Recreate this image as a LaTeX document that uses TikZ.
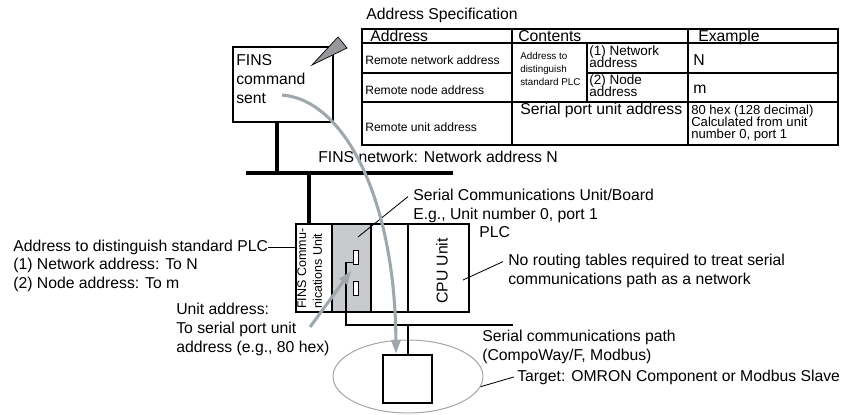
\documentclass[tikz,border=0pt]{standalone}
\usepackage{fontspec}
\setmainfont{Liberation Sans}
\usetikzlibrary{shapes.geometric,arrows.meta,positioning,calc}
\lineskiplimit=-100pt

\definecolor{arrowgray}{RGB}{158,168,173}
\definecolor{unitgray}{RGB}{200,202,206}
\definecolor{tailgray}{RGB}{150,152,156}
\definecolor{ringgray}{RGB}{160,165,170}

\begin{document}
\begin{tikzpicture}[x=0.025cm, y=-0.025cm,
  txt/.style={font=\fontsize{11.2}{13.3}\selectfont, inner sep=0pt, anchor=base west, align=left},
  cell/.style={font=\fontsize{8.6}{10}\selectfont, inner sep=0pt, anchor=base west},
  tinycell/.style={font=\fontsize{7}{9.2}\selectfont, inner sep=0pt, anchor=base west, align=left},
  subcell/.style={font=\fontsize{9.6}{8.5}\selectfont, inner sep=0pt, anchor=base west, align=left},
  examplecell/.style={font=\fontsize{9.3}{8.5}\selectfont, inner sep=0pt, anchor=base west, align=left},
  unittxt/.style={font=\fontsize{8.9}{11.2}\selectfont, inner sep=0pt, rotate=90, align=left},
  unit/.style={draw, line width=1pt, minimum height=2.2cm, inner sep=0pt, outer sep=0pt},
  port/.style={draw, fill=white, line width=0.7pt, minimum width=0.125cm, minimum height=0.35cm, inner sep=0pt},
  sep/.style={line width=2pt},
  bus/.style={line width=2.8pt},
  drop/.style={line width=2.3pt},
  wire/.style={line width=0.9pt},
  leader/.style={line width=0.6pt},
  grid/.style={line width=0.8pt},
  flow/.style={draw=arrowgray, line width=2.2pt, -{Triangle[length=10pt,width=6.5pt]}},
]
\useasboundingbox (0,0) rectangle (845,414);

% Address specification table
\node[txt] (title) at (366,19) {Address Specification};
\draw[grid] (362,29) rectangle (838,145);
\draw[grid] (362,43) -- (838,43);
\draw[grid] (362,73) -- (512,73) (587,73) -- (838,73);
\draw[grid] (362,102) -- (838,102);
\draw[grid] (512,29) -- (512,145);
\draw[grid] (688,29) -- (688,145);
\draw[grid] (587,43) -- (587,102);
\node[txt] (hAddr) at (370,41) {Address};
\node[txt] (hCont) at (518,41) {Contents};
\node[txt] (hEx) at (698,41) {Example};
\node[cell] (rNet) at (365,64) {Remote network address};
\node[cell] (rNode) at (365,94) {Remote node address};
\node[cell] (rUnit) at (365,131) {Remote unit address};
\node[tinycell] (distPLC) at (520,85) {Address to\\distinguish\\standard PLC};
\node[subcell] (netAddr) at (589,67) {(1) Network\\address};
\node[subcell] (nodeAddr) at (589,96) {(2) Node\\address};
\node[txt] (exN) at (693,65) {N};
\node[txt] (exM) at (693,93) {m};
\node[txt] (serPort) at (520,114) {Serial port unit address};
\node[examplecell] (exUnit) at (691,138) {80 hex (128 decimal)\\Calculated from unit\\number 0, port 1};

% FINS command box and callout
\node[draw, line width=1.4pt, minimum width=2.5cm, minimum height=1.875cm, inner sep=0pt] (finsbox) at (283,84.5) {};
\node[txt] (finstxt) at (236,103) {FINS\\command\\sent};
\coordinate (sentend) at (282,95);
\filldraw[fill=tailgray, draw=black, line width=0.5pt] (312,65) -- (338,37) -- (347,48) -- cycle;

% FINS network
\coordinate (busL) at (246,173);
\coordinate (busR) at (453,173);
\coordinate (drop1) at (277,173);
\coordinate (drop2) at (309,173);
\draw[bus] (busL) -- (busR);
\draw[drop] (drop1 |- finsbox.south) -- (drop1);
\node[txt] (netlbl) at (318,162) {FINS network: Network address N};

% PLC rack
\node[unit, minimum width=0.9cm] (finsunit) at (314,268) {};
\node[unit, minimum width=0.975cm, fill=unitgray, right=0pt of finsunit] (serunit) {};
\node[unit, minimum width=0.925cm, right=0pt of serunit] (spareunit) {};
\node[unit, minimum width=1.525cm, right=0pt of spareunit] (cpuunit) {};
\foreach \u in {finsunit,serunit,spareunit}
  \draw[sep] (\u.north east) -- (\u.south east);
\draw[drop] (drop2) -- (drop2 |- finsunit.north);
\node[unittxt, anchor=north west] (finsunittxt) at (297,309) {FINS Commu-\\nications Unit};
\node[unittxt, font=\fontsize{11.2}{13.3}\selectfont] (cputxt) at (442,271) {CPU Unit};
\node[port] (portA) at (355.5,257) {};
\node[port] (portB) at (355.5,288) {};

% serial path and target
\node[draw=ringgray, line width=0.7pt, ellipse, minimum width=3.75cm, minimum height=1.825cm] (ring) at (408,376.5) {};
\node[draw, line width=1.4pt, minimum width=1.225cm, minimum height=1.2cm, inner sep=0pt] (target) at (407.5,379) {};
\coordinate (bendA) at (346,325);
\coordinate (pathR) at (513,325);
\coordinate (tap) at (408,325);
\draw[wire] ($(portA.south west)+(0,-2)$) -| (bendA) -- (pathR);
\draw[wire] (tap) -- (tap |- target.north);

% labels
\node[txt] (serlbl) at (413,219) {Serial Communications Unit/Board\\E.g., Unit number 0, port 1};
\node[txt] (plclbl) at (479,237) {PLC};
\node[txt] (cpulbl) at (508,284) {No routing tables required to treat serial\\communications path as a network};
\node[txt] (pathlbl) at (482,360) {Serial communications path\\(CompoWay/F, Modbus)};
\node[txt] (targetlbl) at (517,381) {Target: OMRON Component or Modbus Slave};
\node[txt] (plcaddr) at (13,251) {Address to distinguish standard PLC};
\node[txt] (plcaddrlist) at (13,288) {(1) Network address: To N\\(2) Node address: To m};
\node[txt] (unitaddr) at (176,352) {Unit address:\\To serial port unit\\address (e.g., 80 hex)};
\coordinate (ualead) at (310,327);

\draw[leader] (plcaddr.east) -- (plcaddr.east -| finsunit.west);
\draw[leader] ($(serlbl.north west)+(-5,8)$) -- ($(serunit.north east)+(-13,13)$);
\draw[leader] ($(cpulbl.north west)+(-5,8)$) -- ($(cpuunit.east)+(-6,12)$);
\draw[leader] ($(targetlbl.west)+(-3,0)$) -- (ring.-8);

% gray arrows
\draw[flow] (sentend) .. controls (345,100) and (395,200) .. ($(target.north west)+(14,0)$);
\draw[flow] (ualead) -- ($(portA.south west)+(-1,6)$);

\end{tikzpicture}
\end{document}
